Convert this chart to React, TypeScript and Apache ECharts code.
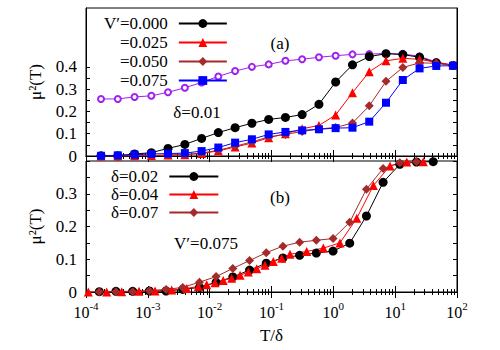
import React, { useEffect, useRef } from "react";
import * as echarts from "echarts";

// ---------- data ----------
// panel (a): delta = 0.01, several V'
const topT = [1.75e-4, 3.27e-4, 6.1e-4, 1.14e-3, 2.12e-3, 3.97e-3, 7.41e-3, 1.38e-2, 2.58e-2, 4.82e-2, 9.0e-2, 0.168, 0.313, 0.585, 1.09, 2.04, 3.81, 7.11, 13.3, 24.8, 46.2, 86.3];
const topV000 = [0.001, 0.001, 0.009, 0.015, 0.034, 0.052, 0.079, 0.105, 0.127, 0.147, 0.164, 0.173, 0.186, 0.232, 0.332, 0.409, 0.446, 0.459, 0.455, 0.443, 0.418, 0.406];
const topV025 = [0, 0, 0.001, 0.002, 0.004, 0.006, 0.011, 0.023, 0.040, 0.058, 0.082, 0.100, 0.122, 0.137, 0.184, 0.284, 0.378, 0.427, 0.438, 0.434, 0.420, 0.408];
const topV050 = [0, 0, 0.001, 0.002, 0.004, 0.007, 0.013, 0.026, 0.044, 0.063, 0.086, 0.097, 0.110, 0.121, 0.128, 0.148, 0.225, 0.335, 0.397, 0.418, 0.416, 0.406];
const topV075 = [0.001, 0.003, 0.006, 0.009, 0.011, 0.013, 0.022, 0.038, 0.060, 0.075, 0.097, 0.108, 0.115, 0.120, 0.125, 0.127, 0.154, 0.239, 0.341, 0.393, 0.404, 0.405];
const topPurple = [0.256, 0.256, 0.265, 0.270, 0.286, 0.306, 0.330, 0.357, 0.381, 0.400, 0.411, 0.427, 0.434, 0.443, 0.450, 0.456, 0.457, 0.460, 0.458, 0.447, 0.422, 0.407];

// panel (b): V' = 0.075, several delta
const botT02 = [1.64e-4, 3.05e-4, 5.69e-4, 1.06e-3, 1.97e-3, 3.67e-3, 6.84e-3, 1.27e-2, 2.37e-2, 4.42e-2, 8.22e-2, 0.153, 0.285, 0.531, 0.989, 1.84, 3.43, 6.38, 11.9, 22.1, 41.2];
const botD02 = [0.001, 0.002, 0.002, 0.003, 0.003, 0.008, 0.014, 0.029, 0.046, 0.067, 0.088, 0.104, 0.112, 0.119, 0.125, 0.149, 0.232, 0.335, 0.390, 0.397, 0.398];
const botT04 = [1.09e-4, 2.16e-4, 3.78e-4, 7.19e-4, 1.31e-3, 2.43e-3, 4.26e-3, 6.55e-3, 8.95e-3, 1.22e-2, 1.66e-2, 2.27e-2, 3.10e-2, 4.22e-2, 5.77e-2, 7.85e-2, 0.107, 0.146, 0.199, 0.371, 0.689, 1.28, 2.39, 4.44, 8.26, 15.4, 28.5];
const botD04 = [0, 0, 0.001, 0.002, 0.003, 0.006, 0.011, 0.017, 0.022, 0.028, 0.035, 0.042, 0.051, 0.061, 0.071, 0.082, 0.093, 0.103, 0.115, 0.124, 0.134, 0.150, 0.225, 0.325, 0.385, 0.397, 0.398];
const botT07 = [1.64e-4, 3.05e-4, 5.69e-4, 1.06e-3, 1.97e-3, 3.67e-3, 6.84e-3, 1.27e-2, 2.37e-2, 4.42e-2, 8.22e-2, 0.153, 0.285, 0.531, 0.989, 1.84, 3.43, 6.38, 11.9, 22.1];
const botD07 = [0.001, 0.001, 0.001, 0.004, 0.008, 0.014, 0.030, 0.047, 0.072, 0.096, 0.120, 0.140, 0.152, 0.158, 0.163, 0.213, 0.314, 0.377, 0.395, 0.398];

const topNames = ["V\u2032=0.000", "=0.025", "=0.050", "=0.075"];
const botNames = ["\u03b4=0.02", "\u03b4=0.04", "\u03b4=0.07"];
const topYLabels = [0, 0.1, 0.2, 0.3, 0.4];
const botYLabels = [0, 0.1, 0.2, 0.3];
const yTicks = [0, 0.05, 0.1, 0.15, 0.2, 0.25, 0.3, 0.35, 0.4];

const FONT = "Liberation Serif";

const pairs = (xs: number[], ys: number[]) => xs.map((x, i) => [x, ys[i]]);

export default function App() {
  const ref = useRef<HTMLDivElement>(null);
  useEffect(() => {
    if (!ref.current) return;
    const chart = echarts.init(ref.current, undefined, { renderer: "svg" });

    const txt = { fontFamily: FONT, fontSize: 17, color: "#000" };
    const logX = (gridIndex: number, position: string, labels: boolean) => ({
      type: "log",
      gridIndex,
      position,
      min: 1e-4,
      max: 1e2,
      logBase: 10,
      splitNumber: 6,
      axisLine: { show: true, lineStyle: { color: "#000", width: 1 } },
      axisTick: { show: true, inside: true, length: 6, lineStyle: { color: "#000" } },
      minorTick: { show: true, splitNumber: 9, length: 3, lineStyle: { color: "#000" } },
      splitLine: { show: false },
      axisLabel: labels
        ? {
            show: true,
            margin: 8,
            formatter: (v: number) => `{b|10}{s|${Math.round(Math.log10(v))}}`,
            rich: {
              b: { fontFamily: FONT, fontSize: 16, color: "#000", lineHeight: 20, verticalAlign: "bottom" },
              s: { fontFamily: FONT, fontSize: 11, color: "#000", lineHeight: 12, verticalAlign: "top" },
            },
          }
        : { show: false },
    });
    const valY = (gridIndex: number, position: string, max: number, labels: number[] | null) => ({
      type: "value",
      gridIndex,
      position,
      min: 0,
      max,
      axisLine: { show: true, lineStyle: { color: "#000", width: 1 } },
      axisTick: { show: true, inside: true, length: 4, customValues: yTicks, lineStyle: { color: "#000" } },
      splitLine: { show: false },
      axisLabel: labels
        ? {
            show: true,
            margin: 9,
            customValues: labels,
            formatter: (v: number) => (v === 0 ? "0" : v.toFixed(1)),
            ...txt,
          }
        : { show: false },
      ...(labels
        ? {
            name: "\u03bc\u00b2(T)",
            nameLocation: "middle",
            nameRotate: 90,
            nameGap: 42,
            nameTextStyle: { ...txt },
          }
        : {}),
    });

    const line = (name: string, xs: number[], ys: number[], color: string, symbol: string, size: number, xi: number, yi: number) => ({
      type: "line",
      name,
      xAxisIndex: xi,
      yAxisIndex: yi,
      data: pairs(xs, ys),
      symbol,
      symbolSize: size,
      showSymbol: true,
      lineStyle: { color, width: 1 },
      itemStyle: { color, borderWidth: 0 },
      emphasis: { disabled: true },
    });

    chart.setOption({
      animation: false,
      backgroundColor: "#fff",
      textStyle: { fontFamily: FONT },
      grid: [
        { left: 86, right: 43, top: 8, height: 148, show: true, borderColor: "#000", borderWidth: 1, containLabel: false },
        { left: 86, right: 43, top: 161, height: 131, show: true, borderColor: "#000", borderWidth: 1, containLabel: false },
      ],
      xAxis: [
        logX(0, "bottom", false),
        logX(0, "top", false),
        {
          ...logX(1, "bottom", true),
          name: "T/\u03b4",
          nameLocation: "middle",
          nameGap: 35,
          nameTextStyle: { ...txt },
        },
        logX(1, "top", false),
      ],
      yAxis: [
        valY(0, "left", 0.664, topYLabels),
        valY(0, "right", 0.664, null),
        valY(1, "left", 0.4, botYLabels),
        valY(1, "right", 0.4, null),
      ],
      legend: [
        {
          data: topNames,
          orient: "vertical",
          align: "right",
          left: 104,
          top: 15,
          padding: 0,
          itemWidth: 48,
          itemHeight: 11,
          itemGap: 2,
          selectedMode: false,
          textStyle: { ...txt, lineHeight: 16, padding: [0, 6, 0, 0] },
        },
        {
          data: botNames,
          orient: "vertical",
          align: "right",
          left: 111,
          top: 168,
          padding: 0,
          itemWidth: 49,
          itemHeight: 11,
          itemGap: 1,
          selectedMode: false,
          textStyle: { ...txt, lineHeight: 16, padding: [0, 6, 0, 0] },
        },
      ],
      graphic: [
        { type: "text", x: 280, y: 43, style: { text: "(a)", fontFamily: FONT, fontSize: 17, fill: "#000", align: "center", verticalAlign: "middle" } },
        { type: "text", x: 197, y: 112, style: { text: "\u03b4=0.01", fontFamily: FONT, fontSize: 17, fill: "#000", align: "center", verticalAlign: "middle" } },
        { type: "text", x: 280, y: 197, style: { text: "(b)", fontFamily: FONT, fontSize: 17, fill: "#000", align: "center", verticalAlign: "middle" } },
        { type: "text", x: 206, y: 243, style: { text: "V\u2032=0.075", fontFamily: FONT, fontSize: 17, fill: "#000", align: "center", verticalAlign: "middle" } },
      ],
      series: [
        {
          ...line("purple", topT, topPurple, "#a020f0", "emptyCircle", 6, 0, 0),
          itemStyle: { color: "#a020f0", borderColor: "#a020f0", borderWidth: 1 },
        },
        line(topNames[0], topT, topV000, "#000000", "circle", 9, 0, 0),
        line(topNames[1], topT, topV025, "#ff0000", "triangle", 9, 0, 0),
        line(topNames[2], topT, topV050, "#a52a2a", "diamond", 9, 0, 0),
        line(topNames[3], topT, topV075, "#0000ff", "rect", 8, 0, 0),
        line(botNames[0], botT02, botD02, "#000000", "circle", 9, 2, 2),
        line(botNames[1], botT04, botD04, "#ff0000", "triangle", 9, 2, 2),
        line(botNames[2], botT07, botD07, "#a52a2a", "diamond", 9, 2, 2),
      ],
    });
    return () => chart.dispose();
  }, []);
  return <div ref={ref} style={{ position: "fixed", left: 0, top: 0, width: 500, height: 350, background: "#fff" }} />;
}
